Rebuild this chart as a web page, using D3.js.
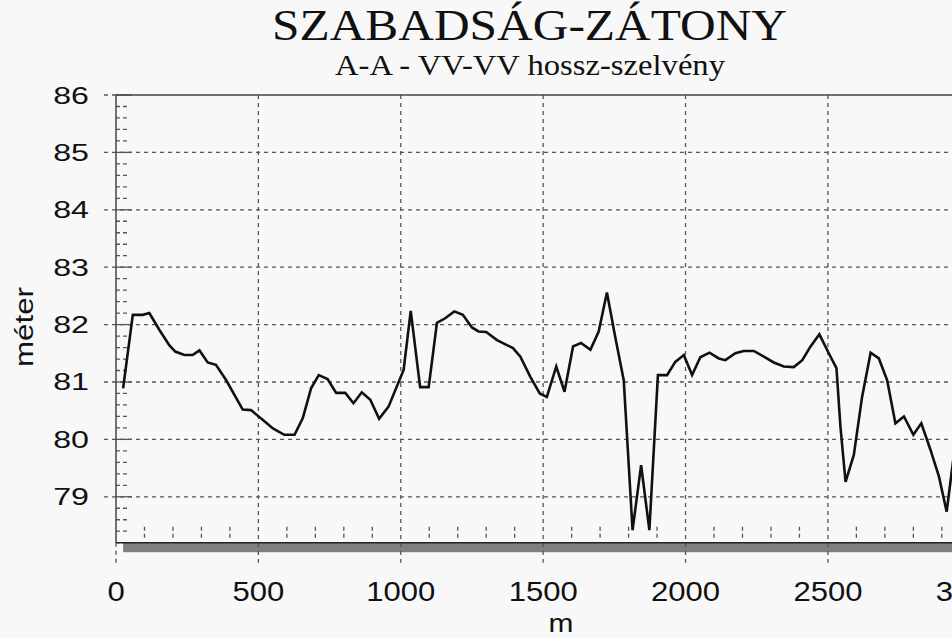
<!DOCTYPE html>
<html><head><meta charset="utf-8">
<script src="https://cdn.jsdelivr.net/npm/d3@7"></script>
<style>
html,body{margin:0;padding:0;background:#f8f8f8;overflow:hidden;}
svg{display:block;}
</style></head>
<body>
<svg id="chart" width="952" height="638"></svg>
<script>
const titleText = "SZABADSÁG-ZÁTONY";
const subtitleText = "A-A - VV-VV hossz-szelvény";
const xLabel = "m";
const yLabel = "méter";
const xTicks = [0, 500, 1000, 1500, 2000, 2500, 3000];
const yTicks = [79, 80, 81, 82, 83, 84, 85, 86];
const distance = [25,59,94,117,152,187,208,240,269,293,322,351,387,445,474,515,551,591,627,656,685,712,743,773,805,834,863,893,924,957,1010,1035,1068,1098,1127,1156,1188,1218,1250,1273,1300,1338,1394,1420,1455,1488,1513,1546,1575,1605,1633,1666,1695,1724,1753,1783,1814,1844,1873,1903,1935,1964,1994,2023,2052,2084,2117,2140,2175,2204,2240,2275,2310,2345,2380,2410,2439,2470,2503,2530,2544,2562,2591,2620,2650,2679,2708,2737,2767,2800,2828,2860,2890,2917,2940,2960];
const elevation = [80.89,82.17,82.17,82.2,81.91,81.64,81.53,81.47,81.47,81.55,81.34,81.30,81.03,80.52,80.51,80.34,80.19,80.08,80.08,80.37,80.89,81.12,81.05,80.81,80.81,80.63,80.82,80.69,80.36,80.57,81.21,82.24,80.91,80.91,82.03,82.11,82.23,82.17,81.95,81.88,81.87,81.73,81.59,81.44,81.09,80.80,80.74,81.27,80.83,81.62,81.68,81.56,81.88,82.56,81.79,81.03,78.42,79.55,78.42,81.12,81.12,81.35,81.47,81.12,81.43,81.51,81.41,81.38,81.50,81.54,81.54,81.44,81.34,81.27,81.26,81.38,81.62,81.83,81.50,81.24,80.22,79.26,79.73,80.74,81.51,81.41,81.03,80.28,80.40,80.08,80.28,79.82,79.35,78.74,79.64,80.1];

(function () {
const svg = d3.select("#chart");
const x = d3.scaleLinear().domain([0, 3000]).range([116, 970.3]);
const y = d3.scaleLinear().domain([78.2, 86]).range([542.7, 95]);
const xMax = 3200;
const pL = x(0), pR = x(xMax), pT = y(86), pB = y(78.2);

svg.append("rect").attr("x", x(distance[0])).attr("y", pB).attr("width", pR - x(distance[0])).attr("height", 9.5).attr("fill", "#7f7f7f");

const gridCol = "#555";
yTicks.forEach(v => {
  svg.append("line").attr("x1", 104).attr("x2", v === 86 ? pL : pR)
    .attr("y1", y(v)).attr("y2", y(v))
    .attr("stroke", gridCol).attr("stroke-width", 1.3).attr("stroke-dasharray", "4,4");
  svg.append("line").attr("x1", pL).attr("x2", pL + 16).attr("y1", y(v)).attr("y2", y(v))
    .attr("stroke", "#555").attr("stroke-width", 1.3);
});
d3.range(78.2, 86, 0.2).map(v => +v.toFixed(1)).filter(v => Math.abs(v - Math.round(v)) > 0.01).forEach(v => {
  svg.append("line").attr("x1", pL).attr("x2", pL + 13).attr("y1", y(v)).attr("y2", y(v))
    .attr("stroke", "#555").attr("stroke-width", 1.3).attr("stroke-dasharray", "4,3");
});
xTicks.forEach(v => {
  svg.append("line").attr("x1", x(v)).attr("x2", x(v)).attr("y1", v === 0 ? pB : pT).attr("y2", pB + 20)
    .attr("stroke", gridCol).attr("stroke-width", 1.3).attr("stroke-dasharray", "4,4");
});
d3.range(100, xMax, 100).filter(v => v % 500 !== 0).forEach(v => {
  svg.append("line").attr("x1", x(v)).attr("x2", x(v)).attr("y1", pB - 16).attr("y2", pB - 3)
    .attr("stroke", "#555").attr("stroke-width", 1.3).attr("stroke-dasharray", "4,3");
});
svg.append("line").attr("x1", pL).attr("x2", pL).attr("y1", pT).attr("y2", pB).attr("stroke", "#444").attr("stroke-width", 1.5);
svg.append("line").attr("x1", pL).attr("x2", pR).attr("y1", pT).attr("y2", pT).attr("stroke", "#444").attr("stroke-width", 1.5);
svg.append("line").attr("x1", pL).attr("x2", pR).attr("y1", pB).attr("y2", pB).attr("stroke", "#222").attr("stroke-width", 1.5);

const pts = distance.map((d, i) => [d, elevation[i]]);
svg.append("path").datum(pts)
  .attr("fill", "none").attr("stroke", "#111").attr("stroke-width", 2.6).attr("stroke-linejoin", "miter")
  .attr("d", d3.line().x(d => x(d[0])).y(d => y(d[1])));

const sans = "Liberation Sans, Arial, sans-serif";
yTicks.forEach(v => {
  svg.append("text").attr("transform", `translate(89,${y(v) + 8.5}) scale(1.4,1)`)
    .attr("text-anchor", "end").attr("font-family", sans).attr("font-size", 23).attr("fill", "#111").text(v);
});
xTicks.forEach(v => {
  svg.append("text").attr("transform", `translate(${x(v)},601) scale(1.15,1)`)
    .attr("text-anchor", "middle").attr("font-family", sans).attr("font-size", 27).attr("fill", "#111").text(v);
});
svg.append("text").attr("transform", "translate(561,632) scale(1.15,1)").attr("text-anchor", "middle")
  .attr("font-family", sans).attr("font-size", 26).attr("fill", "#111").text(xLabel);
svg.append("text").attr("transform", "translate(33,327) rotate(-90) scale(1.25,1)").attr("text-anchor", "middle")
  .attr("font-family", sans).attr("font-size", 25).attr("fill", "#111").text(yLabel);

const serif = "Liberation Serif, Times New Roman, serif";
svg.append("text").attr("x", 529.5).attr("y", 40).attr("text-anchor", "middle").attr("font-family", serif)
  .attr("font-size", 45).attr("fill", "#111").attr("textLength", 515).attr("lengthAdjust", "spacingAndGlyphs").text(titleText);
svg.append("text").attr("x", 530).attr("y", 75).attr("text-anchor", "middle").attr("font-family", serif)
  .attr("font-size", 29).attr("fill", "#111").attr("textLength", 390).attr("lengthAdjust", "spacingAndGlyphs").text(subtitleText);
})();
</script>
</body></html>
